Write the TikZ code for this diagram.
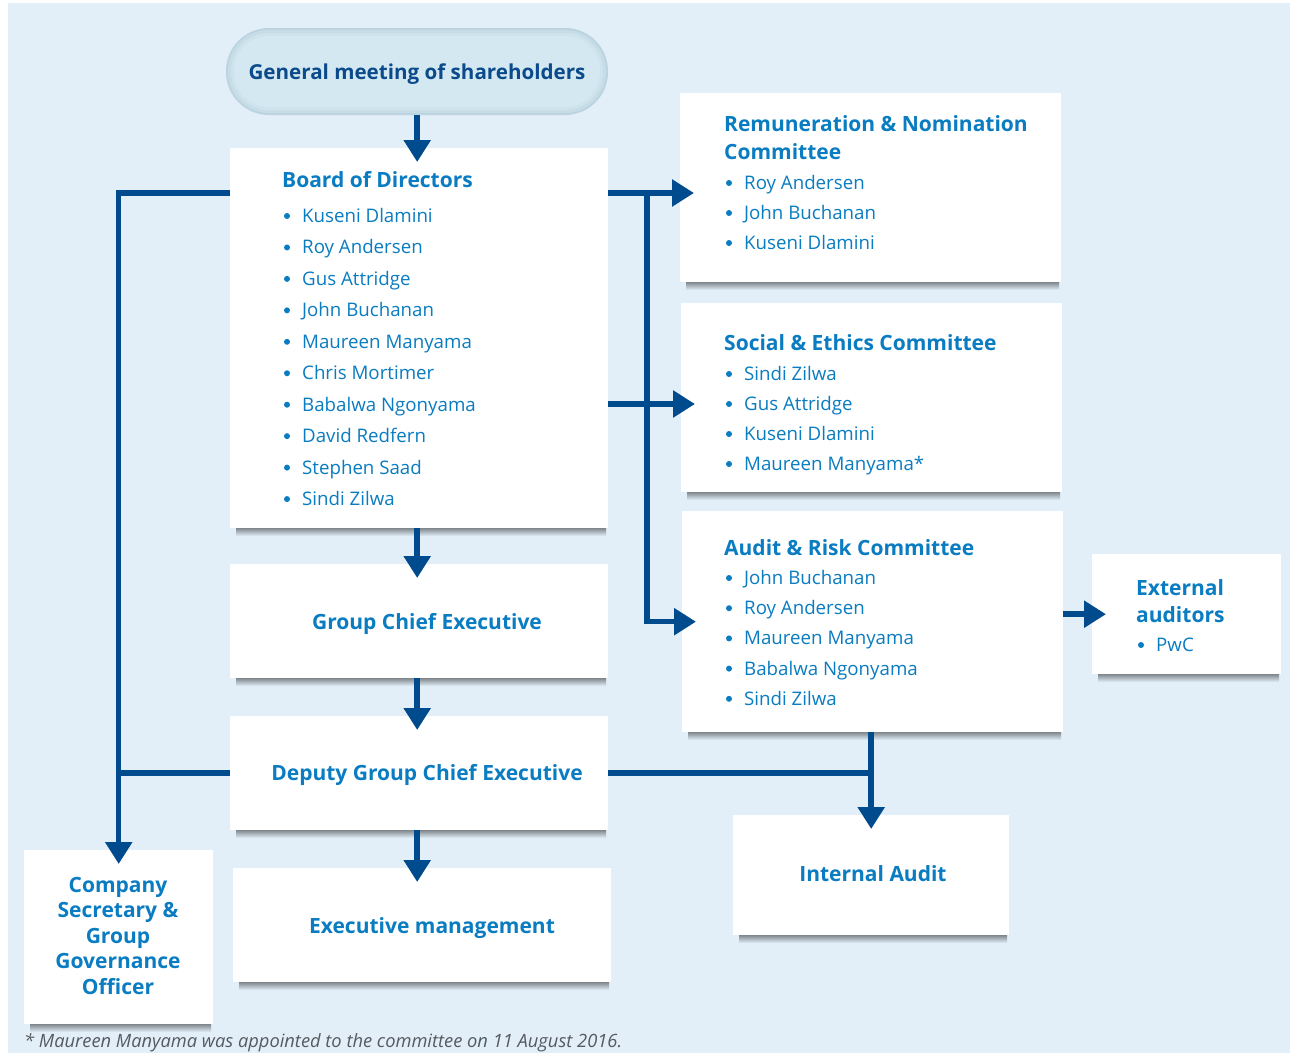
\documentclass[tikz,border=0pt]{standalone}
\usepackage{fontspec}
\setmainfont{Open Sans}
\usetikzlibrary{arrows.meta}
\definecolor{bg}{HTML}{E2EEF8}
\definecolor{txt}{HTML}{0A7CC1}
\definecolor{dark}{HTML}{0B4A8B}
\definecolor{arr}{HTML}{004B8D}
\definecolor{pillA}{HTML}{BBD4DF}
\definecolor{pillB}{HTML}{C6DDE7}
\definecolor{pillC}{HTML}{CEE3EC}
\definecolor{pillD}{HTML}{D4E8F1}
\definecolor{shad}{HTML}{7F868C}
\definecolor{foot}{HTML}{555A60}
\begin{document}
\begin{tikzpicture}[x=1pt,y=-1pt,
  box/.style={fill=white, draw=none, inner sep=0, anchor=north west},
  conn/.style={draw=arr, line width=5.5pt},
  arrow/.style={conn, -{Triangle[length=22pt,width=26pt]}, shorten >=-14pt},
  ttl/.style={anchor=base west, inner sep=0, text=txt, font=\bfseries\fontsize{21}{24}\selectfont},
  ctl/.style={anchor=base, inner sep=0, text=txt, font=\bfseries\fontsize{21}{24}\selectfont},
  nm/.style={anchor=base west, inner sep=0, text=txt, font=\fontsize{18.7}{21}\selectfont},
  dot/.style={fill=txt}]
\useasboundingbox (0,0) rectangle (1290,1053);
\fill[bg] (8,3) rectangle (1290,1053);

% shadows
\foreach \a/\b in {230/528, 230/678, 230/830}
  \shade[top color=shad, bottom color=bg] (\a+6,\b) rectangle (\a+376,\b+8);
\shade[top color=shad, bottom color=bg] (239,982) rectangle (609,990);
\shade[top color=shad, bottom color=bg] (686,282) rectangle (1059,290);
\shade[top color=shad, bottom color=bg] (687,492) rectangle (1060,500);
\shade[top color=shad, bottom color=bg] (688,732) rectangle (1061,740);
\shade[top color=shad, bottom color=bg] (1098,674) rectangle (1279,682);
\shade[top color=shad, bottom color=bg] (739,935) rectangle (1007,943);
\shade[top color=shad, bottom color=bg] (30,1024) rectangle (211,1032);

% general meeting pill
\fill[pillA, rounded corners=43pt] (226,28) rectangle (608,115);
\fill[pillB, rounded corners=41pt] (228,30) rectangle (606,113);
\fill[pillC, rounded corners=38pt] (231,33) rectangle (603,110);
\fill[pillD, rounded corners=35pt] (234,36) rectangle (600,107);
\node[inner sep=0, minimum width=382pt, minimum height=87pt, anchor=north west] (gm) at (226,28) {};
\node[anchor=base, inner sep=0, text=dark, font=\bfseries\fontsize{20.6}{24}\selectfont] (gmt) at (417,79.5) {General meeting of shareholders};

% boxes
\node[box, minimum width=378pt, minimum height=380pt] (board) at (230,148) {};
\node[box, minimum width=381pt, minimum height=189pt] (rem) at (680,93) {};
\node[box, minimum width=381pt, minimum height=189pt] (soc) at (681,303) {};
\node[box, minimum width=381pt, minimum height=221pt] (aud) at (682,511) {};
\node[box, minimum width=189pt, minimum height=120pt] (ext) at (1092,554) {};
\node[box, minimum width=378pt, minimum height=114pt] (gce) at (230,564) {};
\node[box, minimum width=378pt, minimum height=114pt] (dgce) at (230,716) {};
\node[box, minimum width=378pt, minimum height=114pt] (exm) at (233,868) {};
\node[box, minimum width=276pt, minimum height=120pt] (ia) at (733,815) {};
\node[box, minimum width=189pt, minimum height=174pt] (cs) at (24,850) {};

% connectors
\coordinate (bl) at (230,193);
\coordinate (br) at (608,193);
\coordinate (j1) at (647,193);
\coordinate (bs) at (608,404);
\draw[arrow] (gm.south) -- (gm.south |- board.north);
\draw[arrow] (bl) -| (cs.north);
\draw[arrow] (br) -- (br -| rem.west);
\draw[arrow] (j1) |- (aud.west);
\draw[arrow] (bs) -- (bs -| soc.west);
\draw[arrow] (board.south -| gm.south) -- (gce.north -| gm.south);
\draw[arrow] (gce.south -| gm.south) -- (dgce.north -| gm.south);
\draw[arrow] (dgce.south -| gm.south) -- (exm.north -| gm.south);
\draw[conn] (dgce.west) -- (dgce.west -| cs.north);
\draw[conn] (dgce.east) -- (dgce.east -| ia.north);
\draw[arrow] (aud.south -| ia.north) -- (ia.north);
\draw[arrow] (aud.east |- ext.west) -- (ext.west);

% board text
\node[ttl] (bdt) at (282,187.5) {Board of Directors};
\foreach \t [count=\i] in {Kuseni Dlamini, Roy Andersen, Gus Attridge, John Buchanan, Maureen Manyama, Chris Mortimer, Babalwa Ngonyama, David Redfern, Stephen Saad, Sindi Zilwa}{
  \node[nm] (bd\i) at (302,{222.5+(\i-1)*31.45}) {\t};
  \fill[dot] (bd\i.base west) ++(-15,-6.5) circle (3);}

% remuneration
\node[ttl] (remt1) at (724,131.5) {Remuneration \& Nomination};
\node[ttl] (remt2) at (724,159.5) {Committee};
\foreach \t [count=\i] in {Roy Andersen, John Buchanan, Kuseni Dlamini}{
  \node[nm] (rm\i) at (744,{189.5+(\i-1)*30}) {\t};
  \fill[dot] (rm\i.base west) ++(-15,-6.5) circle (3);}

% social
\node[ttl] (soct) at (724,350.5) {Social \& Ethics Committee};
\foreach \t [count=\i] in {Sindi Zilwa, Gus Attridge, Kuseni Dlamini, Maureen Manyama*}{
  \node[nm] (sc\i) at (744,{380.5+(\i-1)*30}) {\t};
  \fill[dot] (sc\i.base west) ++(-15,-6.5) circle (3);}

% audit
\node[ttl] (audt) at (724,555.5) {Audit \& Risk Committee};
\foreach \t [count=\i] in {John Buchanan, Roy Andersen, Maureen Manyama, Babalwa Ngonyama, Sindi Zilwa}{
  \node[nm] (ad\i) at (744,{584.5+(\i-1)*30.2}) {\t};
  \fill[dot] (ad\i.base west) ++(-15,-6.5) circle (3);}

% external
\node[ttl] (ext1) at (1136,595.5) {External};
\node[ttl] (ext2) at (1136,622.5) {auditors};
\node[nm] (ext3) at (1156,651.5) {PwC};
\fill[dot] (ext3.base west) ++(-15,-6.5) circle (3);

% centred titles
\node[ctl] (gcet) at (427,629.5) {Group Chief Executive};
\node[ctl] (dgcet) at (427,780.5) {Deputy Group Chief Executive};
\node[ctl] (exmt) at (432,933.5) {Executive management};
\node[ctl] (iat) at (873,881.5) {Internal Audit};
\node[ctl, align=center, font=\bfseries\fontsize{21}{25.5}\selectfont, anchor=north] (cst) at (118,877) {Company\\Secretary \&\\Group\\Governance\\Officer};

% footnote
\node[anchor=base west, inner sep=0, text=foot, font=\itshape\fontsize{18.3}{21}\selectfont] (fn) at (24,1047.5) {* Maureen Manyama was appointed to the committee on 11 August 2016.};
\end{tikzpicture}
\end{document}
